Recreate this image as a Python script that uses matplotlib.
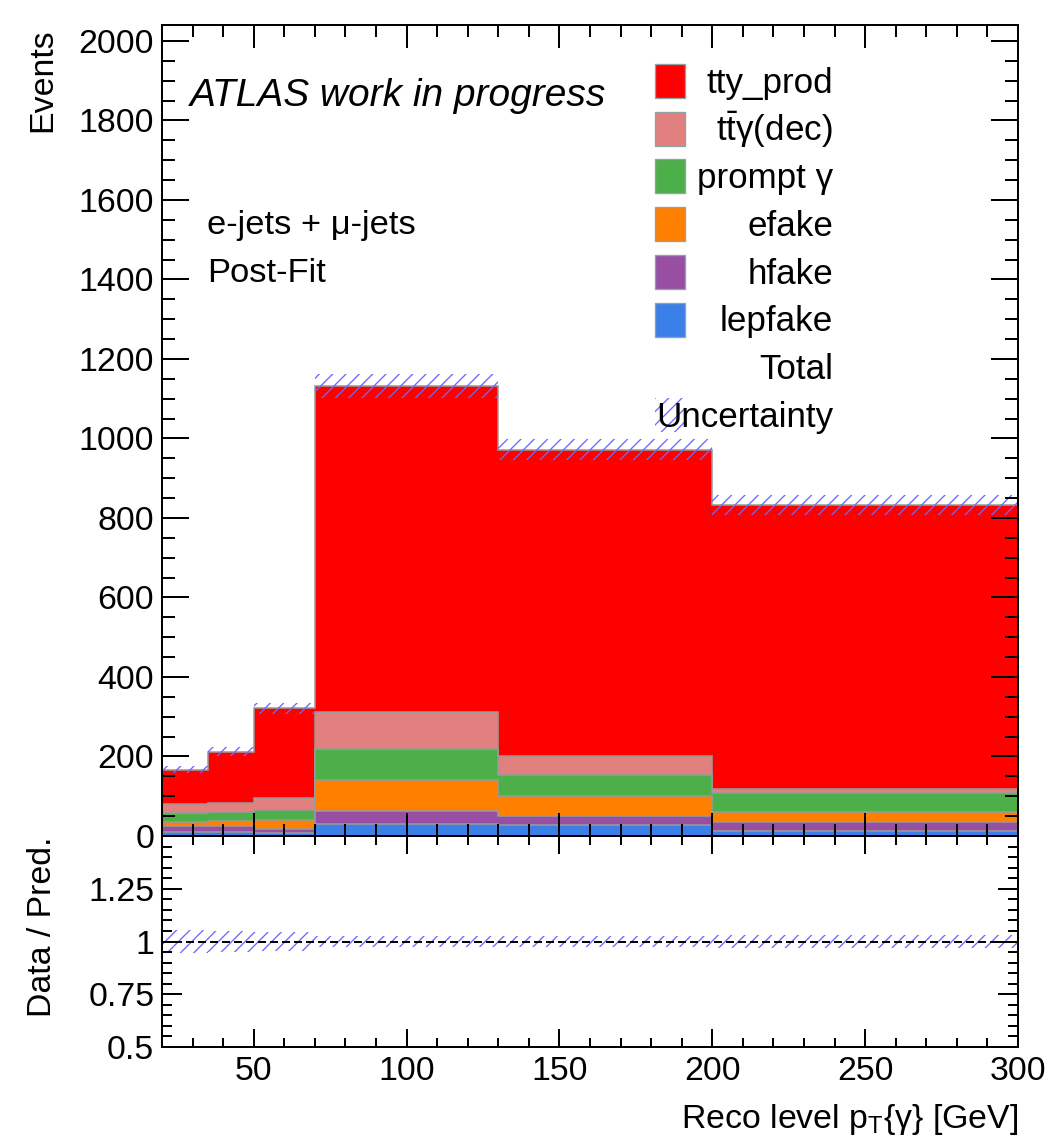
import numpy as np
import matplotlib
matplotlib.use("Agg")
import matplotlib.pyplot as plt
from matplotlib.patches import Rectangle
from matplotlib.ticker import MultipleLocator, FuncFormatter

plt.rcParams["font.family"] = ["Liberation Sans", "DejaVu Sans"]
plt.rcParams["mathtext.fontset"] = "custom"
plt.rcParams["mathtext.rm"] = "Liberation Sans"
plt.rcParams["mathtext.it"] = "Liberation Sans:italic"
plt.rcParams["hatch.linewidth"] = 1.2

# photon pT binning [GeV]
edges = np.array([20, 35, 50, 70, 130, 200, 300])

# post-fit yields per process (stacked bottom -> top)
lepfake = np.array([10, 10, 8, 30, 28, 12])
hfake = np.array([16, 15, 9, 34, 23, 23])
efake = np.array([9, 13, 22, 77, 49, 26])
prompt = np.array([24, 22, 26, 79, 54, 46])
ttgam_dec = np.array([21, 22, 31, 92, 46, 10])
tty_prod = np.array([87, 130, 225, 820, 772, 715])

# relative total uncertainty per bin
rel_unc = np.array([0.055, 0.052, 0.045, 0.026, 0.028, 0.030])

names = ["lepfake", "hfake", "efake", "prompt γ", r"t$\bar{\mathrm{t}}$γ(dec)", "tty_prod"]
yields = [lepfake, hfake, efake, prompt, ttgam_dec, tty_prod]
colors = ["#3b7fe9", "#984ea3", "#ff7f00", "#4daf4a", "#e28080", "#ff0000"]

DPI = 80
W, H = 1046, 1144
fig = plt.figure(figsize=(W / DPI, H / DPI), dpi=DPI)


def fx(x):
    return x / W


def fy(y):
    return 1 - y / H


ax = fig.add_axes([fx(162), fy(836), (1018 - 162) / W, (836 - 25) / H])
rax = fig.add_axes([fx(162), fy(1047), (1018 - 162) / W, (1047 - 836) / H])

# stack: draw cumulative histograms from the top down
cum = np.cumsum(np.vstack(yields), axis=0)
for i in range(len(yields) - 1, -1, -1):
    ax.stairs(cum[i], edges, baseline=0, fill=True, facecolor=colors[i],
              edgecolor="#9a9a9a", linewidth=1.4, zorder=1)

total = cum[-1]
hatch_col = "#6a6aff"
ax.stairs(total * (1 + rel_unc), edges, baseline=total * (1 - rel_unc), fill=True,
          facecolor="none", edgecolor=hatch_col, linewidth=0, hatch="//", zorder=1.5)

# ratio panel: no data, only the prediction band
ones = np.ones_like(rel_unc, dtype=float)
rax.stairs(ones + rel_unc, edges, baseline=ones - rel_unc, fill=True,
           facecolor="none", edgecolor=hatch_col, linewidth=0, hatch="//", zorder=1.5)
rax.axhline(1.0, color="black", lw=1.8, ls=(0, (4, 2)), zorder=2)

ax.set_xlim(20, 300)
ax.set_ylim(0, 2040)
rax.set_xlim(20, 300)
rax.set_ylim(0.5, 1.5)

for a in (ax, rax):
    for s in a.spines.values():
        s.set_linewidth(1.8)
    a.xaxis.set_major_locator(MultipleLocator(50))
    a.xaxis.set_minor_locator(MultipleLocator(10))
    a.tick_params(which="both", direction="in", top=True, right=True, width=1.8,
                  labelsize=30.5)

ax.yaxis.set_major_locator(MultipleLocator(200))
ax.yaxis.set_minor_locator(MultipleLocator(50))
ax.tick_params(axis="y", which="major", length=24, pad=7)
ax.tick_params(axis="y", which="minor", length=12)
ax.tick_params(axis="x", which="major", length=21)
ax.tick_params(axis="x", which="minor", length=11)
ax.tick_params(labelbottom=False)

rax.yaxis.set_major_locator(MultipleLocator(0.25))
rax.yaxis.set_minor_locator(MultipleLocator(0.05))
rax.yaxis.set_major_formatter(FuncFormatter(lambda v, p: "" if v > 1.4 else f"{v:g}"))
rax.tick_params(axis="y", which="major", length=18, pad=7)
rax.tick_params(axis="y", which="minor", length=9)
rax.tick_params(axis="x", which="major", length=16, pad=8)
rax.tick_params(axis="x", which="minor", length=8)

# axis titles
fig.text(fx(43), fy(28), "Events", rotation=90, ha="center", va="top", fontsize=30.5)
fig.text(fx(43), fy(927), "Data / Pred.", rotation=90, ha="center", va="center",
         fontsize=30.5)
fig.text(fx(1018), fy(1128), r"Reco level p$_\mathrm{T}${γ} [GeV]", ha="right",
         va="baseline", fontsize=30.5)

# labels
fig.text(fx(190), fy(106), "ATLAS work in progress", style="italic", fontsize=35,
         va="baseline")
fig.text(fx(207), fy(234), "e-jets + μ-jets", fontsize=31, va="baseline")
fig.text(fx(207), fy(282), "Post-Fit", fontsize=31, va="baseline")

# legend
row0, step = 81, 47.7
for k in range(6):
    i = len(yields) - 1 - k
    yc = row0 + k * step
    fig.add_artist(Rectangle((fx(655), fy(yc + 17)), 30 / W, 34 / H,
                             transform=fig.transFigure, facecolor=colors[i],
                             edgecolor="#8fa3a3", linewidth=1.2))
    fig.text(fx(833), fy(yc + 12), names[i], ha="right", va="baseline", fontsize=31.5)

yc = row0 + 6 * step
fig.text(fx(833), fy(yc + 12), "Total", ha="right", va="baseline", fontsize=31.5)
yc = row0 + 7 * step
fig.add_artist(Rectangle((fx(655), fy(yc + 17)), 30 / W, 34 / H,
                         transform=fig.transFigure, facecolor="none",
                         edgecolor=hatch_col, linewidth=0, hatch="//"))
fig.text(fx(833), fy(yc + 12), "Uncertainty", ha="right", va="baseline", fontsize=31.5)

fig.savefig("out.png", dpi=DPI)
